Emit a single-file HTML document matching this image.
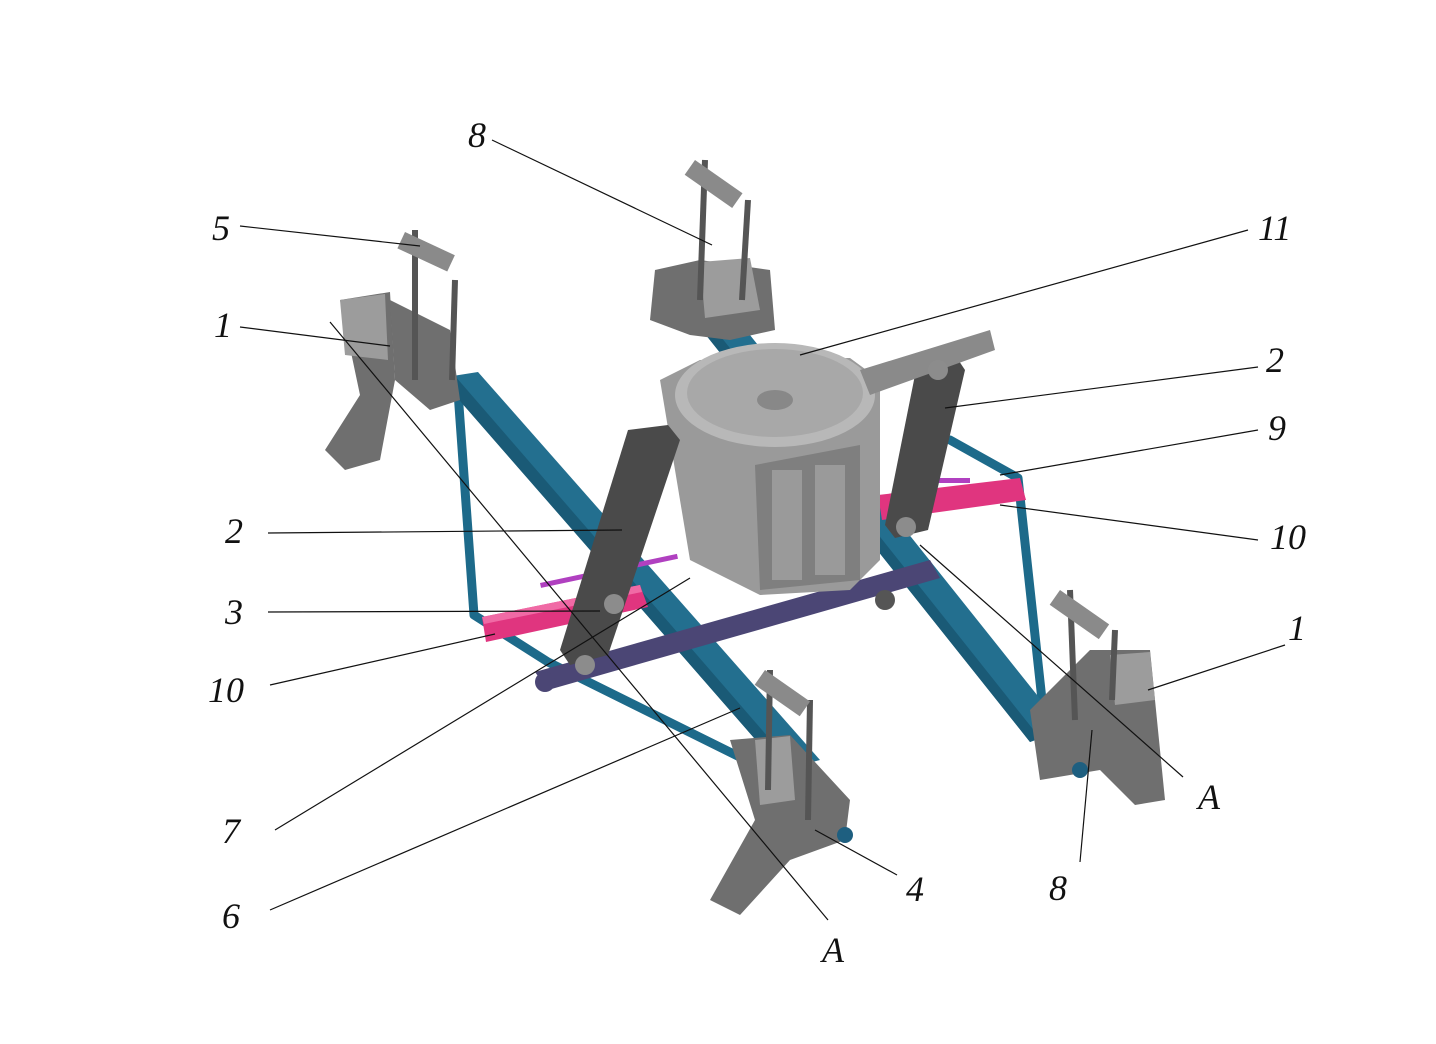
<!DOCTYPE html>
<html><head><meta charset="utf-8"><style>
html,body{margin:0;padding:0;background:#fff;}
svg{display:block}
text{font-family:"Liberation Serif",serif;font-style:italic;font-size:36px;fill:#111}
</style></head><body>
<svg width="1436" height="1044" viewBox="0 0 1436 1044" xmlns="http://www.w3.org/2000/svg">
<rect width="1436" height="1044" fill="#fff"/>
<g fill="none" stroke="#1d6a8a" stroke-width="9" stroke-linecap="round" stroke-linejoin="round">
<polyline points="458,392 474,615 548,662 770,772"/>
<polyline points="950,440 1018,478 1042,700"/>
</g>
<polygon points="440,378 478,372 820,760 782,770" fill="#236f8f"/>
<polygon points="440,378 455,376 795,768 782,770" fill="#1a5a76"/>
<polygon points="690,315 730,310 1065,730 1030,742" fill="#236f8f"/>
<polygon points="690,315 702,313 1040,738 1030,742" fill="#1a5a76"/>
<polygon points="535,672 930,560 940,578 548,690" fill="#4b4675"/>
<circle cx="545" cy="682" r="10" fill="#4b4675"/>
<polygon points="482,617 640,585 648,607 486,642" fill="#e0357f"/>
<polygon points="482,617 640,585 642,592 484,624" fill="#f06aa5"/>
<polygon points="878,495 1020,478 1026,500 882,520" fill="#e0357f"/>
<rect x="540" y="583" width="140" height="5" fill="#b040c0" transform="rotate(-12 540 583)"/>
<rect x="930" y="478" width="40" height="5" fill="#b040c0"/>
<polygon points="660,380 700,360 850,358 880,380 880,560 850,590 760,595 690,560" fill="#9a9a9a"/>
<ellipse cx="775" cy="395" rx="100" ry="52" fill="#b8b8b8"/>
<ellipse cx="775" cy="393" rx="88" ry="44" fill="#a8a8a8"/>
<ellipse cx="775" cy="400" rx="18" ry="10" fill="#888"/>
<polygon points="755,465 860,445 860,580 760,590" fill="#7f7f7f"/>
<rect x="772" y="470" width="30" height="110" fill="#9a9a9a"/>
<rect x="815" y="465" width="30" height="110" fill="#9a9a9a"/>
<polygon points="628,430 668,425 680,440 608,655 570,665 560,650" fill="#4a4a4a"/>
<polygon points="918,360 955,355 965,370 928,530 895,538 885,525" fill="#4a4a4a"/>
<polygon points="860,370 990,330 995,350 870,395" fill="#8a8a8a"/>
<circle cx="614" cy="604" r="10" fill="#8c8c8c"/>
<circle cx="585" cy="665" r="10" fill="#8c8c8c"/>
<circle cx="906" cy="527" r="10" fill="#8c8c8c"/>
<circle cx="938" cy="370" r="10" fill="#8c8c8c"/>
<circle cx="885" cy="600" r="10" fill="#555"/>
<g fill="#6f6f6f">
<polygon points="340,300 390,292 395,380 380,460 345,470 325,450 360,395"/>
<polygon points="390,300 450,330 460,400 430,410 395,380"/>
<polygon points="655,270 700,260 770,270 775,330 730,340 690,335 650,320"/>
<polygon points="730,740 790,735 850,800 845,840 790,860 740,915 710,900 755,820"/>
<polygon points="1030,710 1090,650 1150,650 1165,800 1135,805 1100,770 1040,780"/>
</g>
<g fill="#9c9c9c">
<polygon points="340,300 385,294 388,360 345,355"/>
<polygon points="755,740 790,736 795,800 760,805"/>
<polygon points="1110,655 1150,652 1155,700 1115,705"/>
<polygon points="700,262 750,258 760,310 705,318"/>
</g>
<g fill="none" stroke="#555" stroke-width="6">
<line x1="415" y1="230" x2="415" y2="380"/><line x1="455" y1="280" x2="452" y2="380"/>
<line x1="705" y1="160" x2="700" y2="300"/><line x1="748" y1="200" x2="742" y2="300"/>
<line x1="770" y1="670" x2="768" y2="790"/><line x1="810" y1="700" x2="808" y2="820"/>
<line x1="1070" y1="590" x2="1075" y2="720"/><line x1="1115" y1="630" x2="1112" y2="700"/>
</g>
<g fill="#8a8a8a">
<rect x="405" y="232" width="55" height="18" transform="rotate(25 405 232)"/>
<rect x="695" y="160" width="58" height="18" transform="rotate(35 695 160)"/>
<rect x="765" y="670" width="55" height="18" transform="rotate(35 765 670)"/>
<rect x="1060" y="590" width="60" height="18" transform="rotate(35 1060 590)"/>
</g>
<circle cx="845" cy="835" r="8" fill="#1e5f80"/>
<circle cx="1080" cy="770" r="8" fill="#1e5f80"/>
<g stroke="#111" stroke-width="1.2" fill="none">
<line x1="492" y1="140" x2="712" y2="245"/>
<line x1="240" y1="226" x2="420" y2="246"/>
<line x1="240" y1="327" x2="390" y2="346"/>
<line x1="1248" y1="230" x2="800" y2="355"/>
<line x1="1258" y1="367" x2="945" y2="408"/>
<line x1="1258" y1="430" x2="1000" y2="475"/>
<line x1="1258" y1="540" x2="1000" y2="505"/>
<line x1="268" y1="533" x2="622" y2="530"/>
<line x1="268" y1="612" x2="600" y2="611"/>
<line x1="270" y1="685" x2="495" y2="634"/>
<line x1="1285" y1="645" x2="1148" y2="690"/>
<line x1="1183" y1="777" x2="920" y2="545"/>
<line x1="275" y1="830" x2="690" y2="578"/>
<line x1="270" y1="910" x2="740" y2="708"/>
<line x1="897" y1="875" x2="815" y2="830"/>
<line x1="1080" y1="862" x2="1092" y2="730"/>
<line x1="828" y1="920" x2="330" y2="322"/>
</g>
<text x="468" y="147">8</text>
<text x="212" y="240">5</text>
<text x="214" y="337">1</text>
<text x="1258" y="240">11</text>
<text x="1266" y="372">2</text>
<text x="1268" y="440">9</text>
<text x="1270" y="549">10</text>
<text x="225" y="543">2</text>
<text x="225" y="624">3</text>
<text x="208" y="702">10</text>
<text x="1288" y="640">1</text>
<text x="1198" y="809">A</text>
<text x="222" y="843">7</text>
<text x="906" y="901">4</text>
<text x="1049" y="900">8</text>
<text x="222" y="928">6</text>
<text x="822" y="962">A</text>
</svg>
</body></html>
